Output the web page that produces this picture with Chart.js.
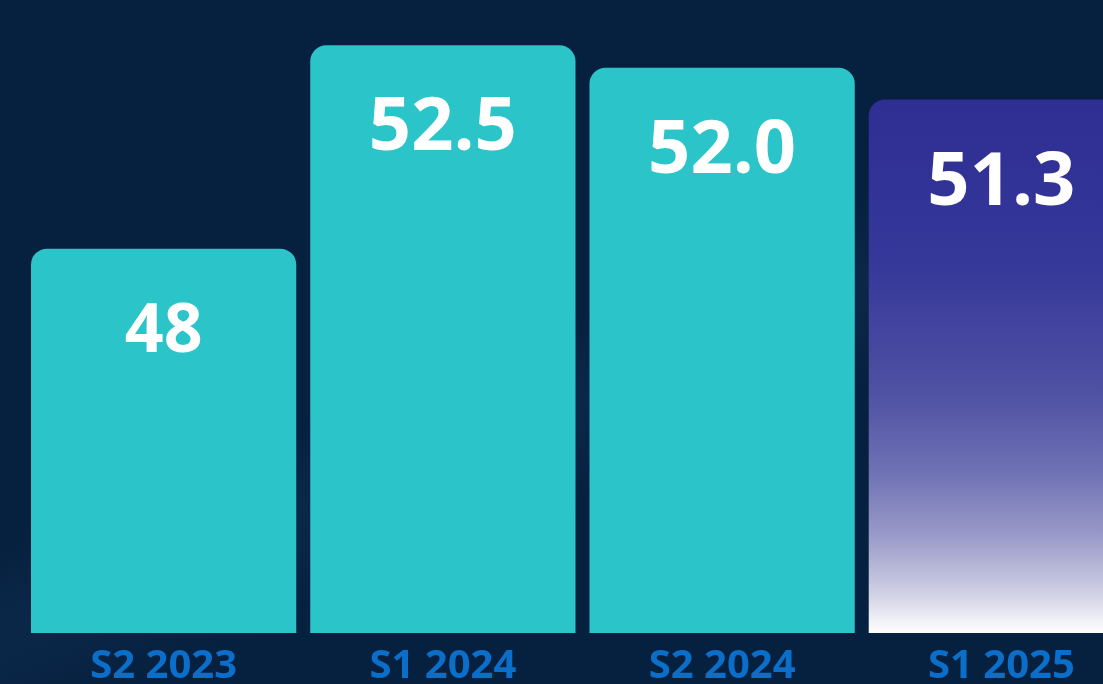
<!DOCTYPE html>
<html>
<head>
<meta charset="utf-8">
<script src="https://cdn.jsdelivr.net/npm/chart.js@4.4.1/dist/chart.umd.min.js"></script>
<style>
    html, body {
        margin: 0;
        padding: 0;
        width: 1103px;
        height: 684px;
        overflow: hidden;
        background: #06203f;
    }
    body {
        background:
            linear-gradient(158deg, rgba(255,255,255,0) 0%, rgba(255,255,255,0) 48%, rgba(40,80,120,0.16) 56%, rgba(255,255,255,0) 66%),
            #06203f;
    }
    #wrap {
        position: absolute;
        left: 0;
        top: 0;
        width: 1141px;
        height: 684px;
    }
</style>
</head>
<body>
<div id="wrap"><canvas id="chart"></canvas></div>
<script>
const categories = ["S2 2023", "S1 2024", "S2 2024", "S1 2025"];
const values = [48, 52.5, 52.0, 51.3];
const valueLabels = ["48", "52.5", "52.0", "51.3"];
const yMin = 39.5;
const yMax = 53.5;

const teal = "#2ac4c9";
const labelBlue = "#0b6fca";

function barColor(context) {
    const chart = context.chart;
    if (context.dataIndex !== 3) return teal;
    const area = chart.chartArea;
    if (!area) return "#2f2e93";
    const top = chart.scales.y.getPixelForValue(context.raw);
    const g = chart.ctx.createLinearGradient(0, top, 0, area.bottom);
    g.addColorStop(0, "#2f2e93");
    g.addColorStop(0.3, "#353799");
    g.addColorStop(0.55, "#4f51a3");
    g.addColorStop(0.7, "#6f72b4");
    g.addColorStop(0.82, "#9a9bc9");
    g.addColorStop(0.92, "#cdcde3");
    g.addColorStop(1, "#ffffff");
    return g;
}

// white numbers drawn inside the top of each bar
const valueLabelPlugin = {
    id: "valueLabels",
    afterDatasetsDraw(chart) {
        const ctx = chart.ctx;
        const meta = chart.getDatasetMeta(0);
        ctx.save();
        ctx.fillStyle = "#ffffff";
        ctx.textAlign = "center";
        ctx.textBaseline = "middle";
        meta.data.forEach((bar, i) => {
            // the integer label is a touch smaller in the original
            const size = valueLabels[i].indexOf(".") < 0 ? 68 : 74;
            ctx.font = "bold " + size + "px 'Open Sans'";
            ctx.fillText(valueLabels[i], bar.x, bar.y + 84);
        });
        ctx.restore();
    }
};

const ctx = document.getElementById("chart").getContext("2d");

new Chart(ctx, {
    type: "bar",
    data: {
        labels: categories,
        datasets: [{
            data: values,
            backgroundColor: barColor,
            borderRadius: { topLeft: 16, topRight: 16, bottomLeft: 0, bottomRight: 0 },
            borderSkipped: "bottom",
            barPercentage: 0.95,
            categoryPercentage: 1.0
        }]
    },
    options: {
        responsive: true,
        maintainAspectRatio: false,
        animation: false,
        layout: {
            padding: { left: 24, right: 0, top: 0, bottom: 0 }
        },
        plugins: {
            legend: { display: false },
            tooltip: { enabled: false }
        },
        scales: {
            x: {
                grid: { display: false, drawTicks: false },
                border: { display: false },
                ticks: {
                    color: labelBlue,
                    padding: 10,
                    font: { family: "'Open Sans'", weight: "bold", size: 40 }
                },
                afterFit: function(scale) {
                    scale.height = 51;
                }
            },
            y: {
                display: false,
                min: yMin,
                max: yMax
            }
        }
    },
    plugins: [valueLabelPlugin]
});
</script>
</body>
</html>
